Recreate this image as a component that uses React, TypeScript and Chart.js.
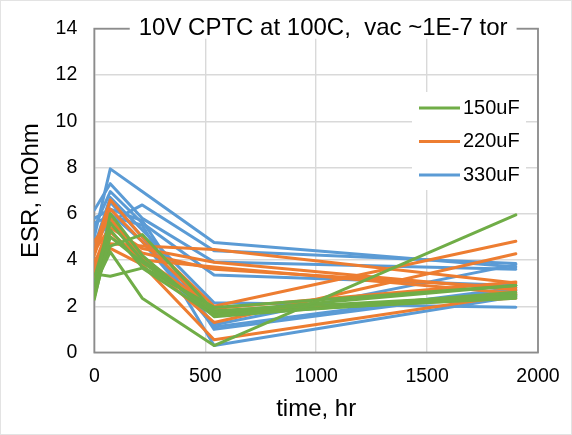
import React, { useEffect, useRef } from "react";
import { Chart, registerables } from "chart.js";

Chart.register(...registerables);

// Test times (hours)
const hours = [0, 72, 216, 540, 1900];

// ESR (mOhm) per capacitor, grouped by capacitance
const esr150uF = [
  [2.9, 4.35, 2.35, 0.3, 5.95],
  [3.4, 3.3, 3.65, 1.6, 2.45],
  [2.4, 5.0, 3.9, 1.75, 2.9],
  [3.0, 4.6, 5.1, 1.8, 2.5],
  [2.5, 6.0, 4.2, 1.55, 2.6],
  [2.3, 5.3, 3.7, 1.95, 2.9],
  [3.2, 5.6, 4.0, 1.7, 2.35],
];
const esr220uF = [
  [4.5, 6.6, 5.0, 2.0, 4.81],
  [3.6, 5.2, 4.0, 1.3, 4.27],
  [4.0, 4.7, 4.6, 4.45, 3.0],
  [3.3, 5.0, 4.0, 3.7, 2.55],
  [3.8, 5.6, 4.3, 3.6, 2.8],
  [4.2, 6.2, 4.8, 1.75, 2.35],
  [3.5, 4.5, 3.8, 0.55, 2.5],
  [4.8, 5.8, 4.1, 1.9, 3.05],
  [4.4, 5.4, 4.5, 3.9, 2.7],
];
const esr330uF = [
  [5.0, 7.94, 6.96, 4.76, 3.7],
  [4.8, 5.65, 6.38, 4.4, 3.85],
  [6.16, 7.3, 5.8, 3.91, 3.6],
  [5.4, 6.96, 5.6, 3.35, 2.9],
  [4.6, 6.7, 5.3, 2.15, 1.96],
  [3.0, 6.0, 4.8, 1.1, 2.8],
  [5.6, 5.9, 5.5, 0.3, 2.42],
  [4.3, 6.5, 5.0, 1.2, 3.8],
  [5.8, 6.2, 5.7, 1.0, 2.7],
];

const groupLabels = ["150uF", "220uF", "330uF"];
const groupColors = ["#70AD47", "#ED7D31", "#5B9BD5"];
const chartTitle = "10V CPTC at 100C,  vac ~1E-7 tor";
const xTitle = "time, hr";
const yTitle = "ESR, mOhm";

const FONT = "'Liberation Sans', Arial, sans-serif";

export default function App() {
  const ref = useRef<HTMLCanvasElement | null>(null);

  useEffect(() => {
    document.body.style.margin = "0";
    const canvas = ref.current;
    if (!canvas) return;

    const groups = [esr150uF, esr220uF, esr330uF];
    const datasets: any[] = [];
    groups.forEach((g, gi) => {
      g.forEach((vals, i) => {
        datasets.push({
          label: `${groupLabels[gi]} #${i + 1}`,
          data: vals.map((v, k) => ({ x: hours[k], y: v })),
          borderColor: groupColors[gi],
          backgroundColor: groupColors[gi],
          borderWidth: 3,
          pointRadius: 0,
          tension: 0,
          fill: false,
          borderJoinStyle: "round",
          borderCapStyle: "round",
        });
      });
    });

    const framePlugin = {
      id: "frame",
      beforeDatasetsDraw(chart: any) {
        const { ctx, chartArea: a } = chart;
        ctx.save();
        ctx.strokeStyle = "#8c8c8c";
        ctx.lineWidth = 1.8;
        ctx.strokeRect(a.left, a.top, a.right - a.left, a.bottom - a.top);
        ctx.restore();
      },
      afterDraw(chart: any) {
        const { ctx, chartArea: a } = chart;
        ctx.save();
        // outer chart border
        ctx.strokeStyle = "#e3e3e3";
        ctx.lineWidth = 1;
        ctx.strokeRect(0.5, 0.5, chart.width - 1, chart.height - 1);

        // title on the top frame line
        ctx.font = `24px ${FONT}`;
        const tw = ctx.measureText(chartTitle).width;
        const cx = (a.left + a.right) / 2 + 7;
        const cy = a.top;
        ctx.fillStyle = "#ffffff";
        ctx.fillRect(cx - tw / 2 - 9, cy - 12, tw + 18, 22);
        ctx.fillStyle = "#000000";
        ctx.textAlign = "center";
        ctx.textBaseline = "middle";
        ctx.fillText(chartTitle, cx, cy);

        // legend
        const lx = 412, ly = 92, lw = 114, lh = 98;
        ctx.fillStyle = "#ffffff";
        ctx.fillRect(lx, ly, lw, lh);
        ctx.font = `20px ${FONT}`;
        ctx.textAlign = "left";
        groupLabels.forEach((lab, i) => {
          const y = 108 + i * 33.5;
          ctx.strokeStyle = groupColors[i];
          ctx.lineWidth = 3;
          ctx.beginPath();
          ctx.moveTo(419, y);
          ctx.lineTo(460, y);
          ctx.stroke();
          ctx.fillStyle = "#000000";
          ctx.fillText(lab, 463, y);
        });
        ctx.restore();
      },
    };

    const tickFont = { family: FONT, size: 19.5 };
    const chart = new Chart(canvas, {
      type: "line",
      data: { datasets },
      options: {
        responsive: false,
        animation: false,
        layout: { padding: { top: 22.6, right: 28.7, left: 0, bottom: 0 } },
        plugins: {
          legend: { display: false },
          tooltip: { enabled: false },
          title: { display: false },
        },
        scales: {
          x: {
            type: "linear",
            min: 0,
            max: 2000,
            ticks: {
              stepSize: 500,
              color: "#000",
              font: tickFont,
              padding: 12.3,
              maxRotation: 0,
              callback: (v: any) => String(v),
            },
            grid: { color: "#d9d9d9", lineWidth: 1.4, drawTicks: false },
            border: { display: false },
            title: {
              display: true,
              text: xTitle,
              color: "#000",
              font: { family: FONT, size: 24 },
              padding: { top: 0, bottom: 11 },
            },
            afterFit: (s: any) => {
              s.height = 82.5;
            },
          },
          y: {
            type: "linear",
            min: 0,
            max: 14,
            ticks: {
              stepSize: 2,
              color: "#000",
              font: tickFont,
              padding: 17,
              callback: (v: any) => String(v),
            },
            grid: { color: "#d9d9d9", lineWidth: 1.4, drawTicks: false },
            border: { display: false },
            title: {
              display: true,
              text: yTitle,
              color: "#000",
              font: { family: FONT, size: 24 },
              padding: { top: 17, bottom: 0 },
            },
            afterFit: (s: any) => {
              s.width = 94.3;
            },
          },
        },
      },
      plugins: [framePlugin],
    });

    return () => chart.destroy();
  }, []);

  return (
    <div style={{ width: 572, height: 435, background: "#fff" }}>
      <canvas ref={ref} width={572} height={435} style={{ display: "block" }} />
    </div>
  );
}
